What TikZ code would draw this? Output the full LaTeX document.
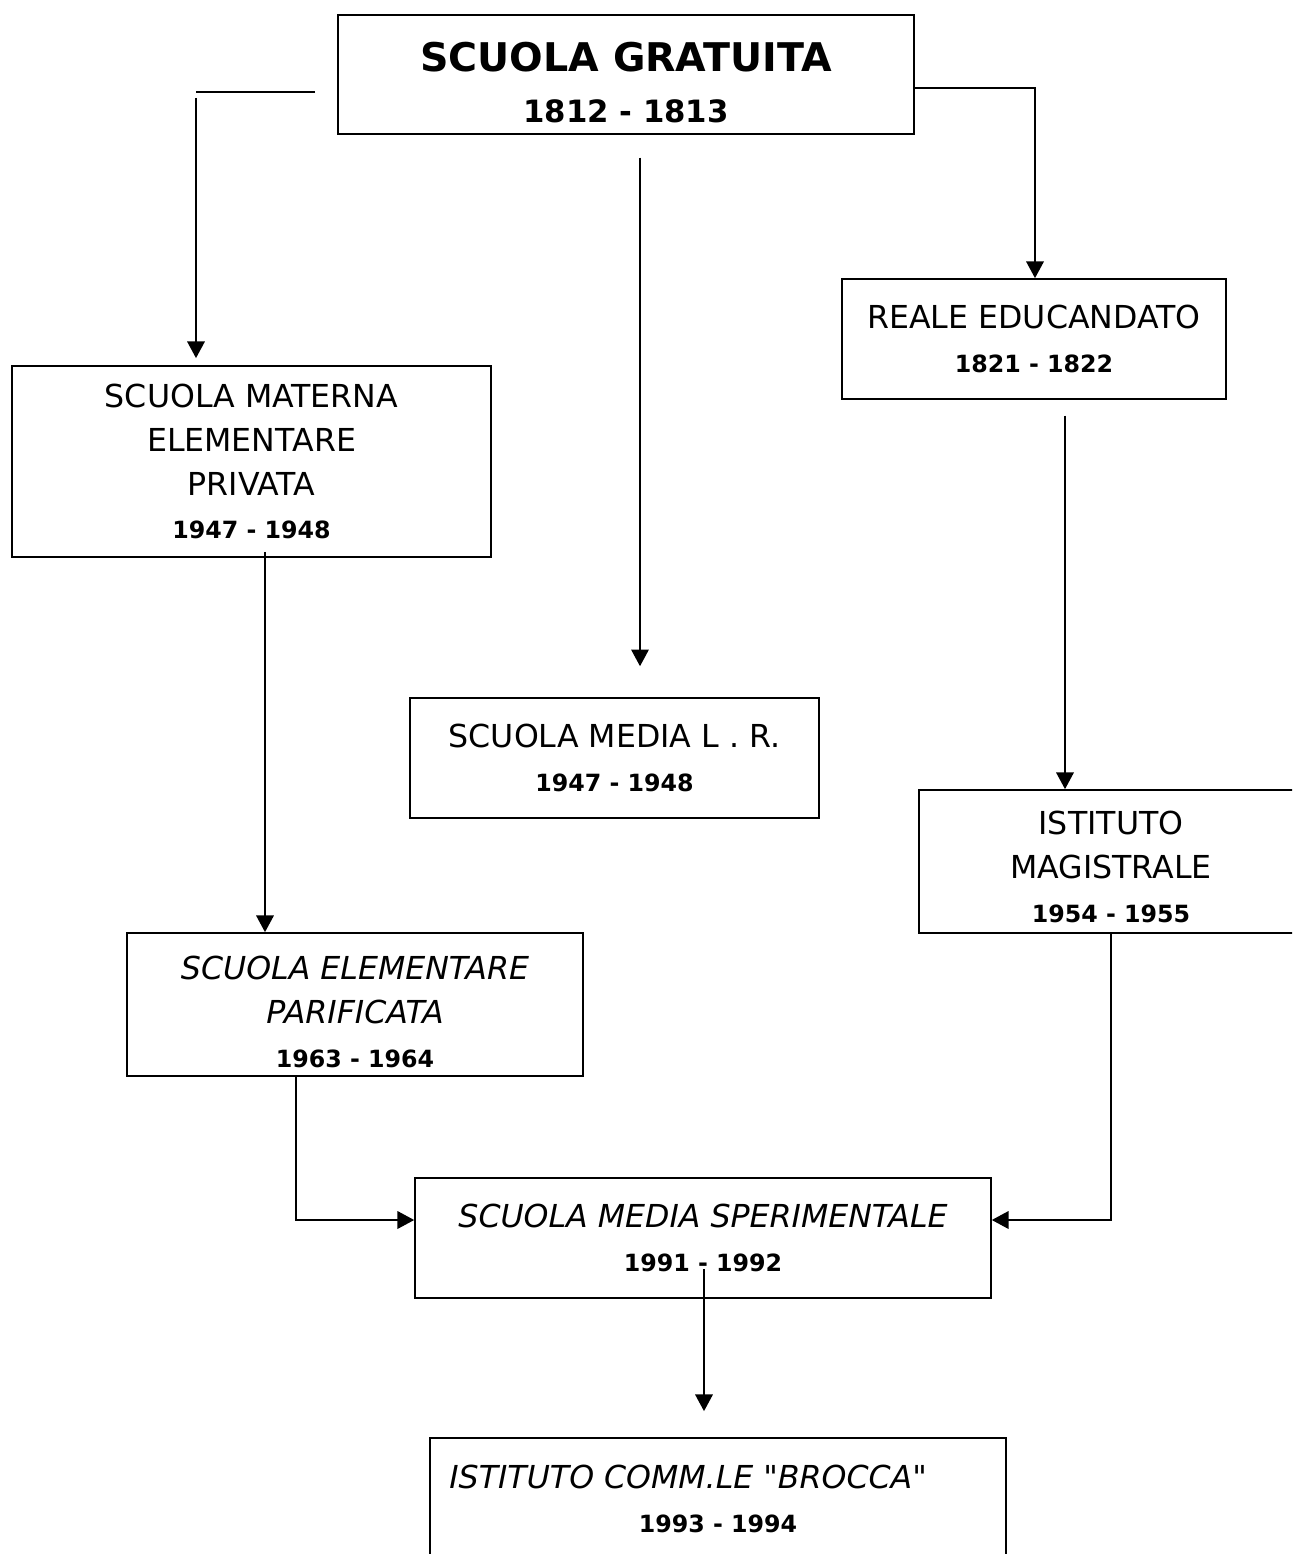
\documentclass[tikz,border=0pt]{standalone}
\usepackage{fontspec}
\setmainfont{DejaVu Sans}[Ligatures=TeXOff]
\usetikzlibrary{arrows.meta}

\begin{document}
\begin{tikzpicture}[
      x=0.02cm, y=-0.02cm,
      box/.style={rectangle, draw, line width=1pt, align=center,
      font=\fontsize{18}{25}\selectfont, inner sep=0pt},
      ibox/.style={box, font=\fontsize{18}{25}\selectfont\itshape},
      arr/.style={-{Triangle[width=10pt, length=9.5pt]}, line width=0.9pt}
    ]
    \useasboundingbox (0,0) rectangle (1292,1554);
    \clip (0,0) rectangle (1292,1554);

    % Root
    \node[box, minimum width=11.52cm, minimum height=2.38cm,
    font=\fontsize{22.5}{29}\selectfont\bfseries] (gratuita) at (626, 74.5)
    {\rule{0pt}{26pt}SCUOLA GRATUITA\\{\fontsize{17.5}{29}\selectfont 1812 - 1813}};

    % Schools
    \node[box, minimum width=7.68cm, minimum height=2.4cm] (reale) at (1034, 339)
    {REALE EDUCANDATO\\{\bfseries\fontsize{13.5}{25}\selectfont 1821 - 1822}};
    \node[box, minimum width=9.58cm, minimum height=3.82cm] (materna) at (251.5, 461.5)
    {SCUOLA MATERNA\\ELEMENTARE\\PRIVATA\\{\bfseries\fontsize{13.5}{25}\selectfont 1947 - 1948}};
    \node[box, minimum width=8.18cm, minimum height=2.4cm] (media) at (614.5, 758)
    {SCUOLA MEDIA L . R.\\{\bfseries\fontsize{13.5}{25}\selectfont 1947 - 1948}};
    \node[box, minimum width=7.68cm, minimum height=2.86cm] (magistr) at (1111, 861.5)
    {\rule{0pt}{20pt}ISTITUTO\\MAGISTRALE\\{\bfseries\fontsize{13.5}{25}\selectfont 1954 - 1955}};
    \node[ibox, minimum width=9.12cm, minimum height=2.86cm] (parif) at (355, 1004.5)
    {\rule{0pt}{22pt}SCUOLA ELEMENTARE\\PARIFICATA\\{\upshape\bfseries\fontsize{13.5}{25}\selectfont 1963 - 1964}};
    \node[ibox, minimum width=11.52cm, minimum height=2.4cm] (sperim) at (703, 1238)
    {SCUOLA MEDIA SPERIMENTALE\\{\upshape\bfseries\fontsize{13.5}{25}\selectfont 1991 - 1992}};
    \node[ibox, minimum width=11.52cm, minimum height=2.44cm] (brocca) at (718, 1499)
    {ISTITUTO COMM.LE "BROCCA"\hspace*{34pt}\\{\upshape\bfseries\fontsize{13.5}{25}\selectfont 1993 - 1994}};

    % Bends
    \coordinate (lbend) at (196, 92);
    \coordinate (rbend) at (1035, 88);

    % Connectors
    \draw[line width=0.9pt, shorten <=12.5pt] (gratuita.west |- lbend) -- (lbend);
    \draw[arr, shorten <=3.4pt, shorten >=4pt] (lbend) -- (lbend |- materna.north);
    \draw[arr] (gratuita.east |- rbend) -| (reale.north -| rbend);
    \draw[arr, shorten <=13pt, shorten >=17.6pt] (gratuita.south -| 640,0) -- (media.north -| 640,0);
    \draw[arr, shorten <=-3.4pt] (materna.south -| 265,0) -- (parif.north -| 265,0);
    \draw[arr, shorten <=9pt] (reale.south -| 1065,0) -- (magistr.north -| 1065,0);
    \draw[arr] (parif.south -| 296,0) |- (sperim.west |- 0,1220);
    \draw[arr] (magistr.south -| 1111,0) |- (sperim.east |- 0,1220);
    \draw[arr, shorten <=-17pt, shorten >=14.8pt] (sperim.south -| 704,0) -- (brocca.north -| 704,0);

  \end{tikzpicture}
\end{document}
